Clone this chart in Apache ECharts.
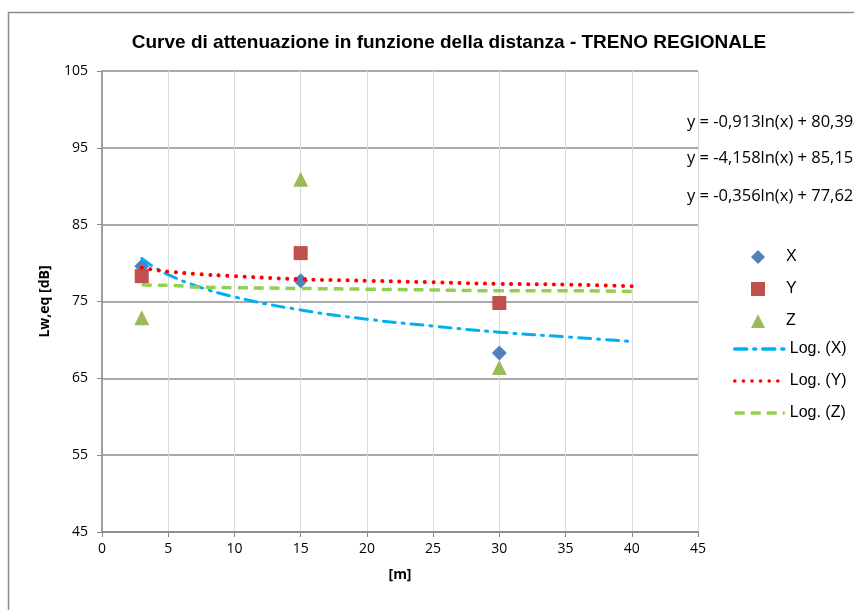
<!DOCTYPE html>
<html>
<head>
<meta charset="utf-8">
<script src="https://cdn.jsdelivr.net/npm/echarts@6/dist/echarts.min.js"></script>
<style>
  html, body { margin: 0; padding: 0; background: #fff; }
  #main { width: 854px; height: 610px; }
</style>
</head>
<body>
<div id="main"></div>
<script>
// punti misurati
var xPoints = [[3, 79.6], [15, 77.7], [30, 68.3]];
var yPoints = [[3, 78.3], [15, 81.3], [30, 74.8]];
var zPoints = [[3, 72.9], [15, 90.9], [30, 66.4]];

// curve di tendenza
var trendX = [3, 4, 5, 7, 10, 15, 20, 25, 30, 35, 40];
var logX = [80.6, 79.4, 78.5, 77.1, 75.6, 73.9, 72.7, 71.8, 71.0, 70.4, 69.8];
var logY = [79.4, 79.1, 78.9, 78.6, 78.3, 77.9, 77.7, 77.5, 77.3, 77.2, 77.0];
var logZ = [77.2, 77.1, 77.1, 76.9, 76.8, 76.7, 76.6, 76.5, 76.4, 76.4, 76.3];

var equations = [
  'y = -0,913ln(x) + 80,394',
  'y = -4,158ln(x) + 85,156',
  'y = -0,356ln(x) + 77,622'
];

function pairs(ys) {
  var out = [];
  for (var i = 0; i < trendX.length; i++) {
    out.push([trendX[i], ys[i]]);
  }
  return out;
}

var chart = echarts.init(document.getElementById('main'));
var labelFont = '"Open Sans", "Noto Sans", sans-serif';
var legendText = { fontFamily: '"Liberation Sans", Arial, sans-serif', fontSize: 16, color: '#000' };
var eqFont = '16.5px "Open Sans", sans-serif';

chart.setOption({
  animation: false,
  title: {
    text: 'Curve di attenuazione in funzione della distanza - TRENO REGIONALE',
    left: 444,
    textAlign: 'center',
    top: 28,
    textStyle: {
      fontFamily: '"Liberation Sans Narrow", "Liberation Sans", Arial, sans-serif',
      fontSize: 19,
      fontWeight: 'bold',
      color: '#000'
    }
  },
  grid: { left: 102, right: 156, top: 71, bottom: 78 },
  legend: [
    {
      // marcatori
      orient: 'vertical',
      left: 746,
      top: 244,
      itemWidth: 14,
      itemHeight: 14,
      itemGap: 16,
      textStyle: Object.assign({ padding: [0, 0, 0, 16] }, legendText),
      data: ['X', 'Y', 'Z']
    },
    {
      // linee di tendenza
      orient: 'vertical',
      left: 728,
      top: 336,
      itemWidth: 50,
      itemHeight: 14,
      itemGap: 16,
      itemStyle: { color: 'rgba(0,0,0,0)', borderWidth: 0 },
      lineStyle: { width: 3.5 },
      textStyle: legendText,
      data: ['Log. (X)', 'Log. (Y)', 'Log. (Z)']
    }
  ],
  xAxis: {
    type: 'value',
    min: 0,
    max: 45,
    interval: 5,
    name: '[m]',
    nameLocation: 'middle',
    nameGap: 36,
    nameTextStyle: { fontFamily: labelFont, fontSize: 14, fontWeight: 'bold', color: '#000' },
    axisLine: { lineStyle: { color: '#868686', width: 1.5 } },
    axisTick: { show: true, length: 5, lineStyle: { color: '#868686' } },
    axisLabel: { fontFamily: labelFont, fontSize: 14, color: '#000', margin: 10 },
    splitLine: { show: true, lineStyle: { color: '#d9d9d9', width: 1 } }
  },
  yAxis: {
    type: 'value',
    min: 45,
    max: 105,
    interval: 10,
    name: 'Lw,eq [dB]',
    nameLocation: 'middle',
    nameRotate: 90,
    nameGap: 50,
    nameTextStyle: { fontFamily: labelFont, fontSize: 14, fontWeight: 'bold', color: '#000' },
    axisLine: { show: true, lineStyle: { color: '#868686', width: 1.5 } },
    axisTick: { show: true, length: 5, lineStyle: { color: '#868686' } },
    axisLabel: { fontFamily: labelFont, fontSize: 14, color: '#000', margin: 14 },
    splitLine: { show: true, lineStyle: { color: '#8c8c8c', width: 1.5 } }
  },
  graphic: [
    {
      type: 'rect',
      silent: true,
      shape: { x: 8.5, y: 12.5, width: 1000, height: 800 },
      style: { fill: 'none', stroke: '#8c8c8c', lineWidth: 1.5 },
      z: -1
    },
    {
      type: 'text', left: 687, top: 114,
      style: { text: equations[0], font: eqFont, fill: '#000' }
    },
    {
      type: 'text', left: 687, top: 150,
      style: { text: equations[1], font: eqFont, fill: '#000' }
    },
    {
      type: 'text', left: 687, top: 188,
      style: { text: equations[2], font: eqFont, fill: '#000' }
    }
  ],
  series: [
    {
      name: 'X', type: 'scatter', symbol: 'diamond', symbolSize: 15,
      itemStyle: { color: '#4F81BD', opacity: 1 }, data: xPoints
    },
    {
      name: 'Y', type: 'scatter', symbol: 'rect', symbolSize: 14,
      itemStyle: { color: '#C0504D', opacity: 1 }, data: yPoints
    },
    {
      name: 'Z', type: 'scatter', symbol: 'triangle', symbolSize: 15,
      itemStyle: { color: '#9BBB59', opacity: 1 }, data: zPoints
    },
    {
      name: 'Log. (X)', type: 'line', smooth: true, showSymbol: false, symbol: 'none',
      itemStyle: { color: '#00B0F0' },
      lineStyle: { color: '#00B0F0', width: 3, type: [12, 7, 2, 7], cap: 'round' },
      data: pairs(logX)
    },
    {
      name: 'Log. (Y)', type: 'line', smooth: true, showSymbol: false, symbol: 'none',
      itemStyle: { color: '#FF0000' },
      lineStyle: { color: '#FF0000', width: 4, type: [0.1, 8.5], cap: 'round' },
      data: pairs(logY)
    },
    {
      name: 'Log. (Z)', type: 'line', smooth: true, showSymbol: false, symbol: 'none',
      itemStyle: { color: '#92D050' },
      lineStyle: { color: '#92D050', width: 3.5, type: [10, 6] },
      data: pairs(logZ)
    }
  ]
});
</script>
</body>
</html>
